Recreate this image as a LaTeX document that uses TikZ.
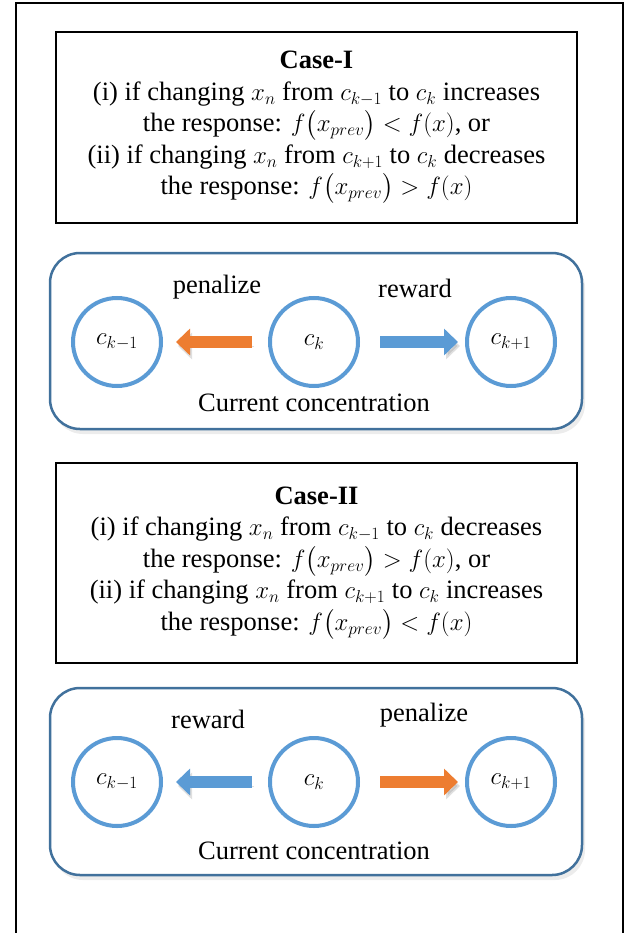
\documentclass[tikz,border=0pt]{standalone}
\usepackage{amsmath}
\usepackage{fontspec}
\setmainfont{Liberation Serif}
\DeclareMathSizes{27}{30}{22}{17}
\usetikzlibrary{positioning, arrows.meta, shadows}
\definecolor{penorange}{HTML}{ED7D31}
\definecolor{rewblue}{HTML}{5B9BD5}
\definecolor{panelblue}{HTML}{41719C}

\begin{document}
\begin{tikzpicture}[
    x=1pt, y=-1pt,
    node distance=105pt,
    every node/.style={font=\fontsize{26.5}{31.5}\selectfont},
    casebox/.style={rectangle, draw=black, line width=1.3pt, minimum width=521pt,
                    align=center, inner sep=0pt},
    panel/.style={rectangle, rounded corners=30pt, draw=panelblue, line width=2.5pt,
                  fill=white, minimum width=532pt,
                  drop shadow={shadow xshift=3pt, shadow yshift=-5pt, opacity=0.15}},
    conc/.style={circle, draw=rewblue, line width=4pt, minimum size=88pt, inner sep=0pt},
    move/.style={line width=12pt, -{Triangle[length=14pt, width=26pt]},
                 preaction={draw=black!50, opacity=0.25,
                            transform canvas={shift={(2pt,-4pt)}}}},
    penalty/.style={move, penorange},
    bonus/.style={move, rewblue}
  ]
    \useasboundingbox (0,0) rectangle (635,933);
    \draw[line width=1.5pt] (16,940) -- (16,3) -- (623,3) -- (623,940);

    % case I
    \node[casebox, minimum height=191pt] (case1) at (316.5,127.5) {\textbf{Case-I}\\
      (i) if changing $x_n$ from $c_{k-1}$ to $c_k$ increases\\
      the response: $f\bigl(x_{prev}\bigr) < f(x)$, or\\
      (ii) if changing $x_n$ from $c_{k+1}$ to $c_k$ decreases\\
      the response: $f\bigl(x_{prev}\bigr) > f(x)$};

    \node[panel, minimum height=176pt] (panel1) at (316,341) {};
    \node[conc] (c1) at (314,342) {$c_k$};
    \node[conc, left=of c1] (cm1) {$c_{k-1}$};
    \node[conc, right=of c1] (cp1) {$c_{k+1}$};
    \node (pen1) at (217,287) {penalize};
    \node (rew1) at (415,288) {reward};
    \node[below=2pt of c1] (cur1) {Current concentration};
    \draw[penalty, shorten <=62pt, shorten >=59pt] (c1.center) -- (cm1.center);
    \draw[bonus, shorten <=66pt, shorten >=53pt] (c1.center) -- (cp1.center);

    % case II
    \node[casebox, minimum height=200pt] (case2) at (316.5,563) {\textbf{Case-II}\\
      (i) if changing $x_n$ from $c_{k-1}$ to $c_k$ decreases\\
      the response: $f\bigl(x_{prev}\bigr) > f(x)$, or\\
      (ii) if changing $x_n$ from $c_{k+1}$ to $c_k$ increases\\
      the response: $f\bigl(x_{prev}\bigr) < f(x)$};

    \node[panel, minimum height=187pt] (panel2) at (316,781.5) {};
    \node[conc] (c2) at (314,782) {$c_k$};
    \node[conc, left=of c2] (cm2) {$c_{k-1}$};
    \node[conc, right=of c2] (cp2) {$c_{k+1}$};
    \node (rew2) at (208,719) {reward};
    \node (pen2) at (424,715) {penalize};
    \node[below=10pt of c2] (cur2) {Current concentration};
    \draw[bonus, shorten <=62pt, shorten >=59pt] (c2.center) -- (cm2.center);
    \draw[penalty, shorten <=66pt, shorten >=53pt] (c2.center) -- (cp2.center);
  \end{tikzpicture}
\end{document}
